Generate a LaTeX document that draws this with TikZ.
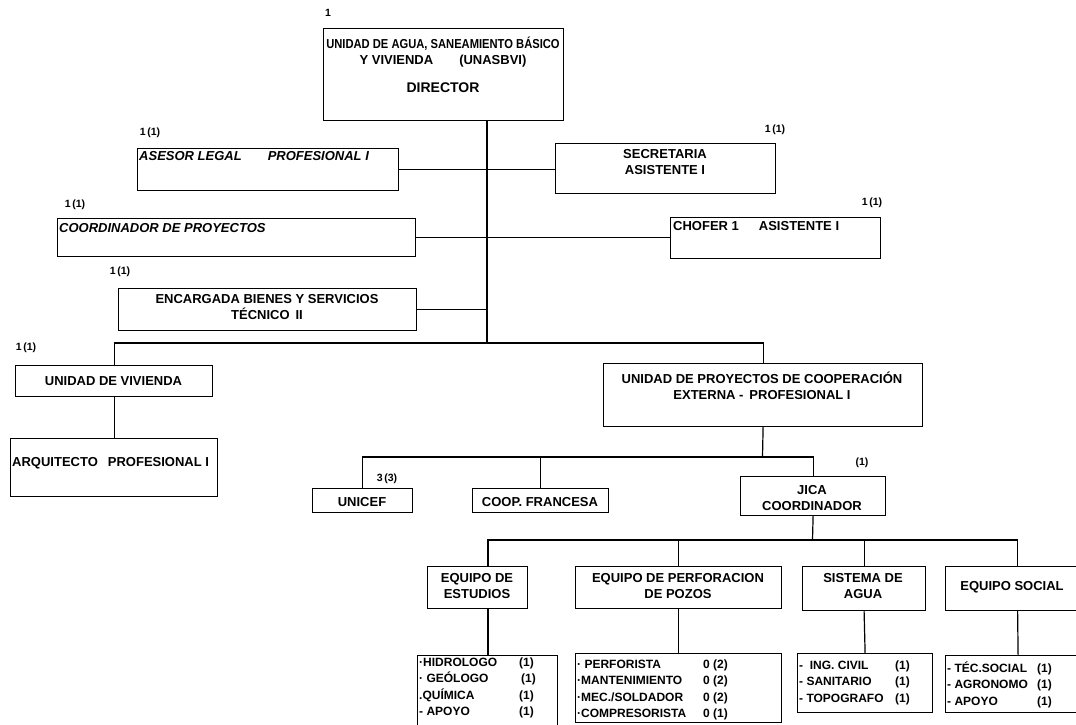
\documentclass[tikz,border=0pt]{standalone}
\usepackage{fontspec}
\setmainfont{Liberation Sans}
\begin{document}
\begin{tikzpicture}[x=1pt,y=-1pt,
  box/.style={draw, line width=1.2pt, inner sep=0pt, anchor=north west},
  wire/.style={line width=1.2pt},
  txt/.style={font=\bfseries\fontsize{13}{16}\selectfont, align=center, inner sep=0pt},
  itxt/.style={font=\bfseries\itshape\fontsize{13}{16}\selectfont, inner sep=0pt, anchor=west},
  num/.style={font=\bfseries\fontsize{10.5}{12}\selectfont, inner sep=0pt},
  lst/.style={font=\bfseries\fontsize{12}{16.5}\selectfont, inner sep=0pt, anchor=base west}]
\newcommand{\orgbox}[5]{\node[box, minimum width=#4pt, minimum height=#5pt] (#1) at (#2,#3) {};}
\path[use as bounding box] (0,0) rectangle (1076,724);
\begin{scope}
\clip (0,0) rectangle (1076,724);

% boxes
\orgbox{dir}{323}{28}{240}{92}
\orgbox{ase}{137}{148}{261}{42}
\orgbox{sec}{555}{143}{220}{50}
\orgbox{coo}{57}{218}{358}{38}
\orgbox{cho}{670}{217}{210}{41}
\orgbox{enc}{118}{288}{298}{42}
\orgbox{viv}{15}{365}{197}{31}
\orgbox{arq}{10}{438}{207}{58}
\orgbox{upc}{603}{363}{319}{63}
\orgbox{uni}{312}{488}{100}{24}
\orgbox{fra}{472}{488}{136}{24}
\orgbox{jic}{740}{476}{145}{39}
\orgbox{est}{427}{566}{100}{42}
\orgbox{per}{575}{566}{206}{42}
\orgbox{sis}{802}{566}{123}{44}
\orgbox{soc}{945}{566}{144}{44}
\orgbox{estL}{417}{655}{140}{80}
\orgbox{perL}{575}{653}{206}{69}
\orgbox{sisL}{797}{653}{135}{59}
\orgbox{socL}{945}{655}{145}{57}

% connectors
\coordinate (tk) at (487,120);
\coordinate (tb) at (487,343);
\coordinate (b2) at (762.5,457);
\coordinate (b3) at (812.5,540);
\coordinate (e1) at (488,566);
\coordinate (e2) at (488,608);
\coordinate (e3) at (488,655);
\draw[wire] (tk) -- (tb);
\draw[wire] (ase.east) -- (sec.west |- ase.east);
\draw[wire] (coo.east) -- (cho.west |- coo.east);
\draw[wire] (enc.east) -- (enc.east -| tk);
\draw[wire] (viv.north) |- (tb) -| (upc.north);
\draw[wire] (viv.south) -- (arq.north);
\draw[wire] (upc.south) -- (b2);
\draw[wire] (uni.north) |- (b2) -| (jic.north);
\draw[wire] (fra.north) -- (fra.north |- b2);
\draw[wire] (jic.south) -- (b3);
\draw[wire] (e1) |- (b3) -| (soc.north);
\draw[wire] (per.north) -- (per.north |- b3);
\draw[wire] (sis.north) -- (sis.north |- b3);
\draw[wire] (e2) -- (e3);
\draw[wire] (per.south) -- (perL.north);
\draw[wire] (sis.south) -- (sisL.north);
\draw[wire] (soc.south) -- (socL.north);

% headcount labels
\node[num, anchor=west] (n0) at (325,13) {1};
\node[num] (n1) at (150,133) {1\,(1)};
\node[num] (n2) at (775,130) {1\,(1)};
\node[num] (n3) at (75,205) {1\,(1)};
\node[num] (n4) at (872,203) {1\,(1)};
\node[num] (n5) at (120,272) {1\,(1)};
\node[num] (n6) at (26,348) {1\,(1)};
\node[num] (n7) at (387,479) {3\,(3)};
\node[num] (n8) at (862,463) {(1)};

% box texts
\node[txt] (tdir) at (443,44) {\scalebox{0.86}[1]{UNIDAD DE AGUA, SANEAMIENTO BÁSICO}};
\node[txt] (tdir1) at (443,61) {Y VIVIENDA\hspace{26pt}(UNASBVI)};
\node[txt, font=\bfseries\fontsize{14}{16}\selectfont] (tdir2) at (443,88) {DIRECTOR};
\node[itxt] (tase) at (139,156) {ASESOR LEGAL\hspace{26pt}PROFESIONAL I};
\node[txt] (tsec) at (665,162) {SECRETARIA\\ASISTENTE I};
\node[itxt] (tcoo) at (59,228) {COORDINADOR DE PROYECTOS};
\node[txt, anchor=west] (tcho) at (673,226) {CHOFER 1\hspace{20pt}ASISTENTE I};
\node[txt] (tenc) at (267,307) {ENCARGADA BIENES Y SERVICIOS\\TÉCNICO\hspace{6pt}II};
\node[txt] (tviv) at (113.5,381) {UNIDAD DE VIVIENDA};
\node[txt, anchor=west] (tarq) at (12,463) {ARQUITECTO\hspace{10pt}PROFESIONAL I};
\node[txt] (tupc) at (762,386) {UNIDAD DE PROYECTOS DE COOPERACIÓN\\EXTERNA -\hspace{6pt}PROFESIONAL I};
\node[txt] (tuni) at (362,502) {UNICEF};
\node[txt] (tfra) at (540,502) {COOP. FRANCESA};
\node[txt] (tjic) at (812,498) {JICA\\COORDINADOR};
\node[txt] (test) at (477,586) {EQUIPO DE\\ESTUDIOS};
\node[txt] (tper) at (678,586) {EQUIPO DE PERFORACION\\DE POZOS};
\node[txt] (tsis) at (863,586) {SISTEMA DE\\AGUA};
\node[txt] (tsoc) at (1012,587) {EQUIPO SOCIAL};

% staff lists
\node[lst] (lest) at (419,666) {\begin{tabular}[t]{@{}p{100pt}@{}l@{}}
·HIDROLOGO & (1)\\
· GEÓLOGO & \,(1)\\
.QUÍMICA & (1)\\
- APOYO & (1)
\end{tabular}};
\node[lst] (lper) at (577,668) {\begin{tabular}[t]{@{}p{126pt}@{}l@{}}
· PERFORISTA & 0 (2)\\
·MANTENIMIENTO & 0 (2)\\
·MEC./SOLDADOR & 0 (2)\\
·COMPRESORISTA & 0 (1)
\end{tabular}};
\node[lst] (lsis) at (799,669) {\begin{tabular}[t]{@{}p{96pt}@{}l@{}}
-\ \ ING. CIVIL & (1)\\
- SANITARIO & (1)\\
- TOPOGRAFO & (1)
\end{tabular}};
\node[lst] (lsoc) at (947,672) {\begin{tabular}[t]{@{}p{90pt}@{}l@{}}
- TÉC.SOCIAL & (1)\\
- AGRONOMO & (1)\\
- APOYO & (1)
\end{tabular}};
\end{scope}
\end{tikzpicture}
\end{document}
